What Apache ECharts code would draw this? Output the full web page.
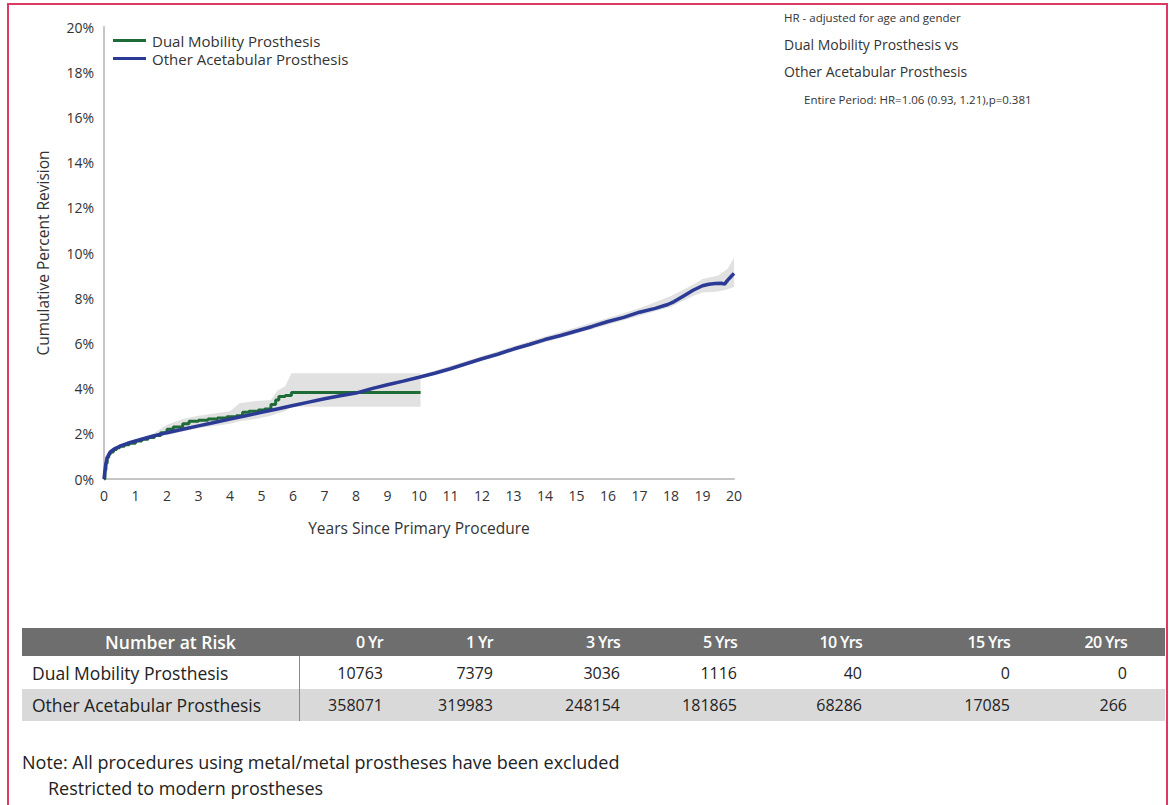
<!DOCTYPE html>
<html>
<head>
<meta charset="utf-8">
<script src="https://cdn.jsdelivr.net/npm/echarts@6/dist/echarts.min.js"></script>
<style>
  html, body { margin: 0; padding: 0; background: #fff; }
  body { width: 1173px; height: 805px; position: relative; overflow: hidden; font-family: "Open Sans", "Noto Sans", sans-serif; color: #222; }
  #frame { position: absolute; left: 7px; top: 3px; width: 1161px; height: 830px; border: 2px solid #dc3a63; box-sizing: border-box; }
  #chart { position: absolute; left: 0; top: 0; width: 1173px; height: 560px; }
  #risk { position: absolute; left: 22px; top: 628px; border-collapse: collapse; table-layout: fixed; font-size: 16px; }
  #risk th { background: #6e6e6e; color: #fff; font-weight: 600; height: 28px; padding: 0 8px 0 0; text-align: right; white-space: nowrap; font-size: 16px; letter-spacing: -0.7px; }
  #risk th.first { text-align: center; padding: 0 0 0 20px; font-size: 17.5px; letter-spacing: 0; }
  #risk td { height: 32px; padding: 0 8px 0 0; text-align: right; white-space: nowrap; }
  #risk td.first { text-align: left; padding-left: 10px; border-right: 1px solid #8a8a8a; font-size: 17.5px; }
  #risk tr.alt td { background: #d9d9d9; }
  #risk tr.row1 td { height: 33px; }
  #note { position: absolute; left: 22px; top: 749px; font-size: 18px; line-height: 26px; color: #222; }
  #note .indent { padding-left: 26px; }
</style>
</head>
<body>
<div id="frame"></div>
<div id="chart"></div>
<table id="risk"></table>
<div id="note">
  <div>Note: All procedures using metal/metal prostheses have been excluded</div>
  <div class="indent">Restricted to modern prostheses</div>
</div>
<script>
// Cumulative percent revision (Kaplan-Meier), years since primary procedure
const seriesNames = ['Dual Mobility Prosthesis', 'Other Acetabular Prosthesis'];

const dualYears = [0, 0.03, 0.06, 0.1, 0.15, 0.2, 0.3, 0.4, 0.5, 0.65, 0.8, 1.0, 1.2, 1.4, 1.6, 1.8, 2.0, 2.2, 2.5, 2.7, 3.0, 3.3, 3.6, 3.9, 4.2, 4.4, 4.6, 4.9, 5.1, 5.3, 5.45, 5.55, 5.75, 5.95, 10.05];
const dualPct   = [0, 0.4, 0.7, 0.95, 1.1, 1.2, 1.3, 1.38, 1.45, 1.52, 1.58, 1.68, 1.76, 1.84, 1.92, 2.05, 2.2, 2.3, 2.45, 2.55, 2.6, 2.65, 2.7, 2.75, 2.8, 2.95, 3.0, 3.05, 3.1, 3.3, 3.5, 3.65, 3.7, 3.83, 3.83];

const otherYears = [0, 0.05, 0.1, 0.2, 0.35, 0.5, 0.75, 1, 1.5, 2, 2.5, 3, 3.5, 4, 4.5, 5, 5.5, 6, 6.5, 7, 7.5, 8, 8.5, 9, 9.5, 10, 10.5, 11, 11.5, 12, 12.5, 13, 13.5, 14, 14.5, 15, 15.5, 16, 16.5, 17, 17.5, 17.9, 18.1, 18.4, 18.7, 19, 19.2, 19.4, 19.6, 19.7, 19.8, 19.9, 20];
const otherPct   = [0, 0.6, 0.95, 1.2, 1.35, 1.45, 1.58, 1.68, 1.88, 2.05, 2.2, 2.35, 2.5, 2.65, 2.8, 2.95, 3.1, 3.25, 3.4, 3.55, 3.68, 3.8, 4.0, 4.17, 4.33, 4.5, 4.68, 4.88, 5.1, 5.32, 5.52, 5.75, 5.95, 6.17, 6.35, 6.55, 6.75, 6.97, 7.15, 7.38, 7.55, 7.72, 7.85, 8.1, 8.35, 8.55, 8.62, 8.65, 8.66, 8.62, 8.8, 8.95, 9.1];

// 95% confidence limits
const dualBandYears = [1.5, 2, 2.5, 3, 3.5, 4, 4.3, 4.8, 5.3, 5.5, 5.75, 5.95, 10.05];
const dualLower     = [1.85, 1.95, 2.1, 2.25, 2.35, 2.45, 2.55, 2.65, 2.8, 2.9, 3.0, 3.2, 3.2];
const dualUpper     = [1.95, 2.4, 2.65, 2.8, 2.9, 3.0, 3.35, 3.45, 3.5, 3.9, 4.1, 4.68, 4.68];

const otherBandYears = [1, 2, 5, 10, 14, 16, 17, 18, 18.7, 19, 19.5, 19.8, 20];
const otherLower     = [1.65, 2.0, 2.9, 4.42, 6.05, 6.82, 7.22, 7.62, 8.1, 8.25, 8.3, 8.4, 8.5];
const otherUpper     = [1.71, 2.1, 3.0, 4.58, 6.3, 7.12, 7.55, 8.1, 8.6, 8.85, 9.0, 9.3, 9.8];

// Number at risk
const riskColumns = ['0 Yr', '1 Yr', '3 Yrs', '5 Yrs', '10 Yrs', '15 Yrs', '20 Yrs'];
const riskDual  = [10763, 7379, 3036, 1116, 40, 0, 0];
const riskOther = [358071, 319983, 248154, 181865, 68286, 17085, 266];

const yTicks = [0, 2, 4, 6, 8, 10, 12, 14, 16, 18, 20];

const hrLines = [
  'HR - adjusted for age and gender',
  'Dual Mobility Prosthesis vs',
  'Other Acetabular Prosthesis',
  'Entire Period: HR=1.06 (0.93, 1.21),p=0.381'
];

const COLORS = { dual: '#1e6b37', other: '#2b3a94', band: '#dcdcdc' };
const FONT = '"Open Sans", "Noto Sans", sans-serif';

function pairs(xs, ys) { return xs.map((x, i) => [x, ys[i]]); }

// Confidence band drawn as one polygon, mapped through the axes with api.coord
function bandSeries(xs, lo, hi, z) {
  return {
    type: 'custom', silent: true, z: z, clip: true,
    data: [[0]],
    renderItem: function (params, api) {
      const upperPts = xs.map((x, i) => api.coord([x, hi[i]]));
      const lowerPts = xs.map((x, i) => api.coord([x, lo[i]]));
      return {
        type: 'polygon',
        shape: { points: upperPts.concat(lowerPts.reverse()) },
        style: { fill: COLORS.band, opacity: 0.85 }
      };
    }
  };
}

const chart = echarts.init(document.getElementById('chart'), null, { renderer: 'svg' });

chart.setOption({
  animation: false,
  textStyle: { fontFamily: FONT },
  grid: { left: 104, top: 27, width: 630, height: 452 },
  legend: {
    data: seriesNames,
    orient: 'vertical', left: 108, top: 28,
    icon: 'rect', itemWidth: 33, itemHeight: 3, itemGap: 3,
    textStyle: { fontSize: 15, color: '#333', fontFamily: FONT, padding: [0, 0, 0, 1] }
  },
  xAxis: {
    type: 'value', min: 0, max: 20, interval: 1,
    name: 'Years Since Primary Procedure', nameLocation: 'middle', nameGap: 41,
    nameTextStyle: { fontSize: 15.5, color: '#333' },
    axisLine: { lineStyle: { color: '#c6c6c6', width: 2 } },
    axisTick: { show: false },
    splitLine: { show: false },
    axisLabel: { fontSize: 14, color: '#333', margin: 9 }
  },
  yAxis: {
    type: 'value', min: yTicks[0], max: yTicks[yTicks.length - 1], interval: yTicks[1] - yTicks[0],
    name: 'Cumulative Percent Revision', nameLocation: 'middle', nameGap: 53,
    nameTextStyle: { fontSize: 15.5, color: '#333' },
    axisLine: { show: true, lineStyle: { color: '#c6c6c6', width: 2 } },
    axisTick: { show: false },
    splitLine: { show: false },
    axisLabel: { fontSize: 14, color: '#333', margin: 10, formatter: '{value}%' }
  },
  graphic: hrLines.map((t, i) => ({
    type: 'text',
    left: i === 3 ? 804 : 784,
    top: [11, 37, 64, 93][i],
    style: { text: t, fontSize: [11.5, 14, 14, 11.5][i], fill: '#333', fontFamily: FONT }
  })),
  series: [
    bandSeries(otherBandYears, otherLower, otherUpper, 1),
    bandSeries(dualBandYears, dualLower, dualUpper, 2),
    {
      name: seriesNames[0], type: 'line', step: 'end', symbol: 'none', z: 4,
      color: COLORS.dual, lineStyle: { width: 3, color: COLORS.dual },
      data: pairs(dualYears, dualPct)
    },
    {
      name: seriesNames[1], type: 'line', symbol: 'none', z: 5,
      color: COLORS.other, lineStyle: { width: 3.5, color: COLORS.other },
      data: pairs(otherYears, otherPct)
    }
  ]
});

// Number-at-risk table
const colWidths = [277, 92, 110, 127, 117, 125, 148, 117, 30];
const table = document.getElementById('risk');
const cg = document.createElement('colgroup');
colWidths.forEach(w => { const c = document.createElement('col'); c.style.width = w + 'px'; cg.appendChild(c); });
table.appendChild(cg);

function addRow(cells, isHead, cls) {
  const tr = document.createElement('tr');
  if (cls) tr.className = cls;
  cells.concat(['']).forEach((txt, i) => {
    const cell = document.createElement(isHead ? 'th' : 'td');
    cell.textContent = txt;
    if (i === 0) cell.className = 'first';
    tr.appendChild(cell);
  });
  table.appendChild(tr);
}
addRow(['Number at Risk'].concat(riskColumns), true);
addRow([seriesNames[0]].concat(riskDual.map(String)), false, 'row1');
addRow([seriesNames[1]].concat(riskOther.map(String)), false, 'alt');
</script>
</body>
</html>
